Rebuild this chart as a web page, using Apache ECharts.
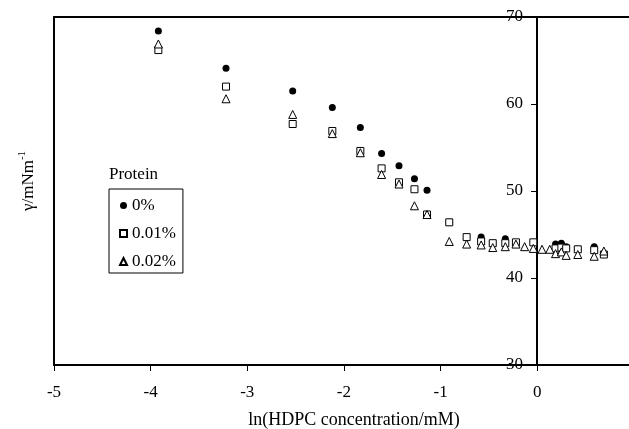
<!DOCTYPE html>
<html>
<head>
<meta charset="utf-8">
<script src="https://cdn.jsdelivr.net/npm/echarts@6/dist/echarts.min.js"></script>
<style>
  html, body { margin: 0; padding: 0; background: #fff; }
  #main { width: 629px; height: 429px; }
</style>
</head>
<body>
<div id="main"></div>
<script>
// protein 0% (filled circles)
var p0 = [
  [-3.92, 68.4], [-3.22, 64.1], [-2.53, 61.5], [-2.12, 59.6], [-1.83, 57.3],
  [-1.61, 54.3], [-1.43, 52.9], [-1.27, 51.4], [-1.14, 50.1], [-0.91, 46.4],
  [-0.58, 44.7], [-0.46, 44.0], [-0.33, 44.5], [0.19, 43.9], [0.25, 44.0],
  [0.30, 43.6], [0.42, 43.3], [0.59, 43.6]
];
// protein 0.01% (open squares)
var p001 = [
  [-3.92, 66.2], [-3.22, 62.0], [-2.53, 57.7], [-2.12, 56.9], [-1.83, 54.6],
  [-1.61, 52.6], [-1.43, 51.0], [-1.27, 50.2], [-1.14, 47.3], [-0.91, 46.4],
  [-0.73, 44.7], [-0.58, 44.2], [-0.46, 44.0], [-0.33, 44.0], [-0.22, 44.1],
  [-0.04, 44.1], [0.19, 43.4], [0.25, 43.5], [0.30, 43.4], [0.42, 43.3],
  [0.59, 43.2], [0.69, 42.7]
];
// protein 0.02% (open triangles)
var p002 = [
  [-3.92, 66.9], [-3.22, 60.6], [-2.53, 58.8], [-2.12, 56.6], [-1.83, 54.4],
  [-1.61, 51.9], [-1.43, 50.8], [-1.27, 48.3], [-1.14, 47.3], [-0.91, 44.2],
  [-0.73, 43.9], [-0.58, 43.8], [-0.46, 43.5], [-0.33, 43.6], [-0.22, 43.9],
  [-0.13, 43.6], [-0.04, 43.4], [0.05, 43.3], [0.13, 43.3], [0.19, 42.8],
  [0.25, 43.0], [0.30, 42.6], [0.42, 42.7], [0.59, 42.5], [0.69, 43.1]
];
var xTicks = [-5, -4, -3, -2, -1, 0];
var yTicks = [30, 40, 50, 60, 70];

var font = "'Liberation Serif', 'Times New Roman', serif";
var blackLine = { color: '#000', width: 2 };
var myChart = echarts.init(document.getElementById('main'));

myChart.setOption({
  animation: false,
  textStyle: { fontFamily: font },
  grid: { left: 54, right: 0, top: 17, bottom: 64 },
  xAxis: [
    {
      type: 'value', min: -5, max: 0.95,
      axisLine: { onZero: false, lineStyle: blackLine },
      axisTick: { customValues: xTicks, length: 6, lineStyle: { color: '#000', width: 1 } },
      axisLabel: { customValues: xTicks, color: '#000', fontSize: 17, fontFamily: font, margin: 19 },
      splitLine: { show: false }
    },
    {
      // top frame line
      type: 'value', min: -5, max: 0.95, position: 'top',
      axisLine: { onZero: false, lineStyle: blackLine },
      axisTick: { show: false }, axisLabel: { show: false }, splitLine: { show: false }
    }
  ],
  yAxis: [
    {
      // the y axis sits at x = 0
      type: 'value', min: 30, max: 70, interval: 10,
      position: 'left', offset: -483,
      axisLine: { onZero: false, lineStyle: blackLine },
      axisTick: { customValues: yTicks, length: 6, lineStyle: { color: '#000', width: 1 } },
      axisLabel: { customValues: yTicks, color: '#000', fontSize: 17, fontFamily: font, margin: 14 },
      splitLine: { show: false }
    },
    {
      // left frame line
      type: 'value', min: 30, max: 70, position: 'left',
      axisLine: { onZero: false, lineStyle: blackLine },
      axisTick: { show: false }, axisLabel: { show: false }, splitLine: { show: false }
    }
  ],
  legend: {
    orient: 'vertical', left: 109, top: 189,
    padding: [8, 7, 3, 10], itemGap: 11,
    itemWidth: 7, itemHeight: 7,
    borderColor: '#000', borderWidth: 1,
    textStyle: { color: '#000', fontSize: 17, fontFamily: font },
    data: ['0%', '0.01%', '0.02%']
  },
  series: [
    {
      name: '0%', type: 'scatter', data: p0,
      symbol: 'circle', symbolSize: 7,
      itemStyle: { color: '#000', opacity: 1 }
    },
    {
      name: '0.01%', type: 'scatter', data: p001,
      symbol: 'rect', symbolSize: 7,
      itemStyle: { color: '#fff', borderColor: '#000', borderWidth: 1, opacity: 1 }
    },
    {
      name: '0.02%', type: 'scatter', data: p002,
      symbol: 'triangle', symbolSize: 8,
      itemStyle: { color: '#fff', borderColor: '#000', borderWidth: 1, opacity: 1 }
    }
  ],
  graphic: [
    {
      type: 'text', left: 109, top: 166,
      style: { text: 'Protein', fill: '#000', font: '17px ' + font }
    },
    {
      type: 'text', x: 354, y: 420,
      style: {
        text: 'ln(HDPC concentration/mM)', fill: '#000',
        font: '18px ' + font, align: 'center', verticalAlign: 'middle'
      }
    },
    {
      type: 'text', x: 27, y: 181, rotation: Math.PI / 2,
      style: {
        text: '{a|γ/mNm}{s|-1}', fill: '#000',
        align: 'center', verticalAlign: 'middle',
        rich: {
          a: { fontSize: 17, fontFamily: font, lineHeight: 20, verticalAlign: 'bottom' },
          s: { fontSize: 11, fontFamily: font, lineHeight: 20, verticalAlign: 'top' }
        }
      }
    }
  ]
});
</script>
</body>
</html>
